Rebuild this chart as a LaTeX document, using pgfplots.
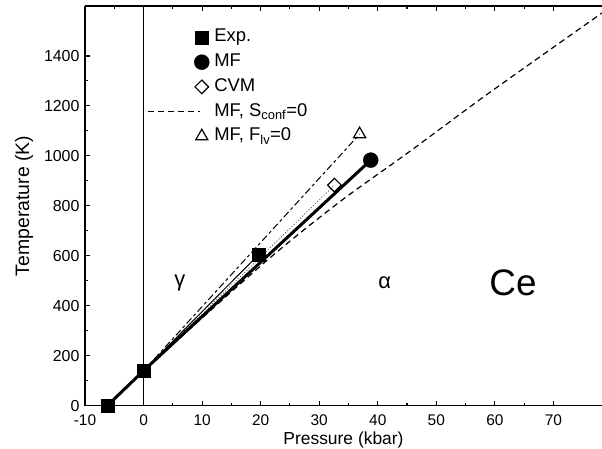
\documentclass[border=0pt]{standalone}
\usepackage{fontspec}
\setmainfont{Liberation Sans}
\usepackage{pgfplots}
\pgfplotsset{compat=1.18}
\pgfplotsset{
 mleg/.style={legend image code/.code={\path (0bp,0bp) (64bp,0bp); \draw[##1] plot coordinates {(54bp,0bp)};}},
 dleg/.style={legend image code/.code={\path (0bp,0bp) (64bp,0bp); \draw[##1] (0bp,0bp) -- (52bp,0bp);}},
}
\begin{document}
\begin{tikzpicture}
\begin{axis}[
 name=ax,
 scale only axis, width=517bp, height=399.7bp,
 xmin=-10, xmax=78.3, ymin=0, ymax=1600,
 axis x line*=box, axis y line*=left,
 axis line style={line width=1.4bp},
 xtick={-10,0,...,70}, ytick={0,200,...,1400},
 minor x tick num=1, minor y tick num=1,
 tick align=inside,
 major tick length=5bp, minor tick length=3bp,
 tick style={line width=1.1bp, black},
 /pgf/number format/assume math mode=true,
 /pgf/number format/1000 sep={},
 ticklabel style={font=\fontsize{16}{17}\selectfont},
 xticklabel style={font=\fontsize{15.5}{16}\selectfont, anchor=base, yshift=-19.8bp, inner sep=0pt},
 yticklabel style={xshift=-2bp},
 label style={font=\fontsize{19.5}{21}\selectfont},
 xlabel={Pressure (kbar)}, ylabel={Temperature (K)},
 xlabel style={font=\fontsize{17.5}{19}\selectfont, at={(axis description cs:0.5,0)}, anchor=base, yshift=-38.9bp, inner sep=0pt},
 ylabel style={yshift=4bp},
 clip mode=individual,
 legend style={at={(axis description cs:0.12,0.948)}, anchor=north west, draw=none, fill=none, inner sep=0pt, row sep=3.7bp, font=\fontsize{18.5}{20}\selectfont, nodes={inner sep=2bp, text height=13bp, text depth=4bp}},
 legend cell align=left,
]
\addlegendimage{mleg, only marks, mark=square*, mark size=6.5bp, black}
\addlegendentry{Exp.}
\addlegendimage{mleg, only marks, mark=*, mark size=7.5bp, black}
\addlegendentry{MF}
\addlegendimage{mleg, only marks, mark=square, mark size=4.8bp, mark options={rotate=45, line width=1.2bp, fill=white}, black}
\addlegendentry{CVM}
\addlegendimage{dleg, black, line width=1.1bp, dash pattern=on 6bp off 4bp}
\addlegendentry{MF, S\textsubscript{conf}=0}
\addlegendimage{mleg, only marks, mark=triangle, mark size=7bp, mark options={line width=1.2bp}, black}
\addlegendentry{MF, F\textsubscript{lv}=0}

% vertical line at P = 0
\addplot[forget plot, black, line width=0.6bp] coordinates {(0,0) (0,1600)};
% CVM (dotted)
\addplot[forget plot, black!60, line width=1bp, dotted] coordinates {(0,140) (32.6,883)};
% MF, F_lv = 0 (dash-dot)
\addplot[forget plot, black, line width=1bp, dash pattern=on 7bp off 3bp on 3bp off 3bp] coordinates {(0,140) (36.9,1087)};
% Exp. (thin line)
\addplot[forget plot, black, line width=1bp] coordinates {(0,140) (19.7,606)};
% MF, S_conf = 0 (dashed)
\addplot[forget plot, black, line width=1.2bp, dash pattern=on 6bp off 4bp, smooth] coordinates {(0,140) (20.7,574) (33.5,816) (45,1010) (58.9,1250) (78.3,1572)};
% MF (thick)
\addplot[forget plot, black, line width=3bp] coordinates {(-6.2,0) (0,140) (38.8,983)};
% markers
\addplot[forget plot, only marks, mark=*, mark size=7.5bp, black] coordinates {(38.8,983)};
\addplot[forget plot, only marks, mark=square*, mark size=6.5bp, black] coordinates {(-6.2,0) (0,140) (19.7,606)};
\addplot[forget plot, only marks, mark=square, mark size=4.8bp, mark options={rotate=45, line width=1.2bp, fill=white}, black] coordinates {(32.6,883)};
\addplot[forget plot, only marks, mark=triangle, mark size=7bp, mark options={line width=1.2bp}, black] coordinates {(36.9,1087)};

\node[font=\fontsize{22}{23}\selectfont] at (axis cs:6.2,491) {γ};
\node[font=\fontsize{22}{23}\selectfont] at (axis cs:41.2,491) {α};
\node[font=\fontsize{37}{38}\selectfont] at (axis cs:63.1,491) {Ce};
\end{axis}
\pgfresetboundingbox
\path[use as bounding box] ([xshift=-85bp,yshift=-42.3bp]ax.south west) rectangle ([yshift=6bp]ax.north east);
\end{tikzpicture}
\end{document}
